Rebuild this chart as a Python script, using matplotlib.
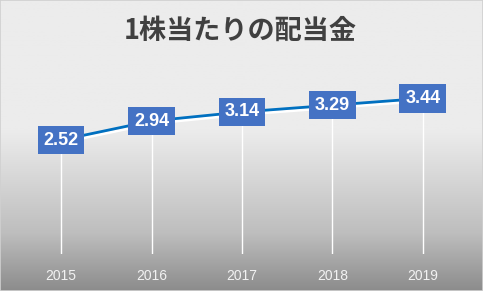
import numpy as np
import matplotlib
matplotlib.use('Agg')
import matplotlib.pyplot as plt
import matplotlib.patheffects as pe
from matplotlib.patches import Rectangle

# data
years = ['2015', '2016', '2017', '2018', '2019']
dividend = [2.52, 2.94, 3.14, 3.29, 3.44]
title = '1株当たりの配当金'

fig = plt.figure(figsize=(4.83, 2.91), dpi=100)

# background gradient (light top, darker bottom)
bg = fig.add_axes([0, 0, 1, 1], zorder=0)
stops = [0.0, 0.45, 0.8, 1.0]
vals = [236, 236, 190, 140]
t = np.linspace(0, 1, 300)
g = np.interp(t, stops, vals) / 255.0
grad = np.dstack([g, g, g])[:, None, :].reshape(300, 1, 3)
bg.imshow(grad, aspect='auto', extent=[0, 1, 0, 1])
bg.axis('off')
fig.patches.append(Rectangle((0, 0), 1, 1, transform=fig.transFigure,
                             fill=False, ec='#d0d0d0', lw=1.2, zorder=10))

ax = fig.add_axes([0.033, 0.127, 0.936, 0.622], zorder=1)
ax.patch.set_alpha(0)
x = np.arange(len(years))

# drop lines
ax.vlines(x, 0, dividend, colors='white', lw=1, zorder=1)

ax.plot(x, dividend, color='#0070C0', lw=2.0, zorder=2,
        path_effects=[pe.SimpleLineShadow(offset=(0.5, -1.8), shadow_color='white', alpha=1),
                      pe.Normal()])

for xi, v in zip(x, dividend):
    ax.text(xi, v, f'{v:.2f}', ha='center', va='center', color='white',
            fontsize=13, fontweight='bold', family='Liberation Sans', zorder=3,
            bbox=dict(boxstyle='square,pad=0.32', fc='#4472C4', ec='none'))

ax.set_xlim(-0.5, 4.5)
ax.set_ylim(0, 4)
ax.set_xticks(x)
ax.set_xticklabels(years, color='#f2f2f2', fontsize=10, family='Liberation Sans')
ax.tick_params(axis='x', length=0, pad=11)
ax.set_yticks([])
for s in ax.spines.values():
    s.set_visible(False)

fig.text(0.497, 0.895, title, ha='center', va='center', fontsize=19.5,
         fontweight='bold', color='#404040', family=['Noto Sans CJK JP', 'DejaVu Sans'])

fig.savefig('out.png', dpi=100)
